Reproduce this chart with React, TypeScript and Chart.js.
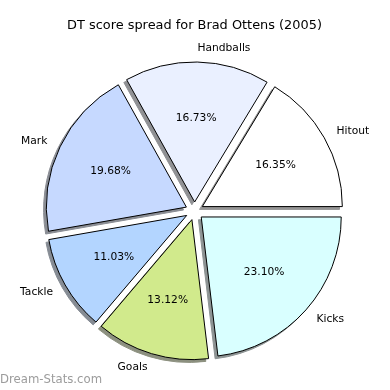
import React, { useEffect, useRef } from "react";
import { Chart, registerables } from "chart.js";

Chart.register(...registerables);

// Order as in the reference (counter-clockwise from 3 o'clock)
const categories = ["Hitout", "Handballs", "Mark", "Tackle", "Goals", "Kicks"];
const shares = [16.35, 16.73, 19.68, 11.03, 13.12, 23.1];
const sliceColors = ["#ffffff", "#eaf0ff", "#c6d9ff", "#b3d5ff", "#d1ea8c", "#d9ffff"];

const TITLE = "DT score spread for Brad Ottens (2005)";
const WATERMARK = "Dream-Stats.com";
const FONT = "'DejaVu Sans', sans-serif";

const EXPLODE = 9;
const SHADOW_DX = -2.8;
const SHADOW_DY = 2.8;

function shadowColor(hex: string): string {
  const h = hex.replace("#", "");
  const r = parseInt(h.slice(0, 2), 16);
  const g = parseInt(h.slice(2, 4), 16);
  const b = parseInt(h.slice(4, 6), 16);
  const a = 0.6;
  const f = (c: number) => Math.round(255 - a * (255 - 0.3 * c));
  return `rgb(${f(r)},${f(g)},${f(b)})`;
}

const piePlugin = {
  id: "explodedPie",
  beforeDatasetDraw(chart: any, args: any) {
    const ctx = chart.ctx as CanvasRenderingContext2D;
    const meta = chart.getDatasetMeta(args.index);
    const arcs = meta.data as any[];
    const colors = chart.data.datasets[args.index].backgroundColor as string[];
    // shadows first
    arcs.forEach((arc, i) => {
      const { x, y, startAngle, endAngle, outerRadius } = arc.getProps(
        ["x", "y", "startAngle", "endAngle", "outerRadius"],
        true
      );
      const mid = (startAngle + endAngle) / 2;
      const cx = x + Math.cos(mid) * EXPLODE + SHADOW_DX;
      const cy = y + Math.sin(mid) * EXPLODE + SHADOW_DY;
      ctx.save();
      ctx.beginPath();
      ctx.moveTo(cx, cy);
      ctx.arc(cx, cy, outerRadius, startAngle, endAngle);
      ctx.closePath();
      ctx.fillStyle = shadowColor(colors[i]);
      ctx.strokeStyle = shadowColor(colors[i]);
      ctx.lineWidth = 1;
      ctx.lineJoin = "miter";
      ctx.fill();
      ctx.stroke();
      ctx.restore();
    });
    // wedges, each pushed out along its bisector
    arcs.forEach((arc) => {
      const { startAngle, endAngle } = arc.getProps(["startAngle", "endAngle"], true);
      const mid = (startAngle + endAngle) / 2;
      ctx.save();
      ctx.translate(Math.cos(mid) * EXPLODE, Math.sin(mid) * EXPLODE);
      arc.draw(ctx);
      ctx.restore();
    });
    return false;
  },
  afterDatasetsDraw(chart: any) {
    const ctx = chart.ctx as CanvasRenderingContext2D;
    const meta = chart.getDatasetMeta(0);
    const arcs = meta.data as any[];
    const labels = chart.data.labels as string[];
    const values = chart.data.datasets[0].data as number[];
    ctx.save();
    ctx.fillStyle = "#000";
    ctx.textBaseline = "middle";
    arcs.forEach((arc, i) => {
      const { x, y, startAngle, endAngle, outerRadius } = arc.getProps(
        ["x", "y", "startAngle", "endAngle", "outerRadius"],
        true
      );
      const mid = (startAngle + endAngle) / 2;
      const cx = x + Math.cos(mid) * EXPLODE;
      const cy = y + Math.sin(mid) * EXPLODE;
      // category label
      const lx = cx + Math.cos(mid) * outerRadius * 1.1;
      const ly = cy + Math.sin(mid) * outerRadius * 1.1;
      ctx.font = `10.7px ${FONT}`;
      ctx.textAlign = Math.cos(mid) > 0 ? "left" : "right";
      ctx.fillText(labels[i], lx, ly);
      // percentage
      const px = cx + Math.cos(mid) * outerRadius * 0.6;
      const py = cy + Math.sin(mid) * outerRadius * 0.6;
      ctx.textAlign = "center";
      ctx.fillText(values[i].toFixed(2) + "%", px, py);
    });
    // title
    ctx.font = `12.9px ${FONT}`;
    ctx.textAlign = "center";
    ctx.fillText(TITLE, 194.5, 26);
    // watermark
    ctx.font = `11.7px ${FONT}`;
    ctx.fillStyle = "#9c9c9c";
    ctx.textAlign = "left";
    ctx.fillText(WATERMARK, 0, 380);
    ctx.restore();
  },
};

export default function App() {
  const ref = useRef<HTMLCanvasElement | null>(null);
  useEffect(() => {
    if (!ref.current) return;
    // Chart.js goes clockwise; reverse so the reference's counter-clockwise order is kept
    const labels = [...categories].reverse();
    const data = [...shares].reverse();
    const colors = [...sliceColors].reverse();
    const chart = new Chart(ref.current, {
      type: "pie",
      data: {
        labels,
        datasets: [
          {
            data,
            backgroundColor: colors,
            borderColor: "#000000",
            borderWidth: 1,
            borderJoinStyle: "miter",
            offset: 0,
          } as any,
        ],
      },
      options: {
        responsive: false,
        animation: false,
        events: [],
        rotation: 90,
        radius: 140,
        layout: { padding: { left: 40, right: 41, top: 52, bottom: 20 } },
        plugins: {
          legend: { display: false },
          tooltip: { enabled: false },
          title: { display: false },
        },
      } as any,
      plugins: [piePlugin as any],
    });
    return () => chart.destroy();
  }, []);
  return (
    <div style={{ position: "fixed", left: 0, top: 0, width: 390, height: 390, background: "#fff" }}>
      <canvas ref={ref} width={390} height={390} />
    </div>
  );
}
